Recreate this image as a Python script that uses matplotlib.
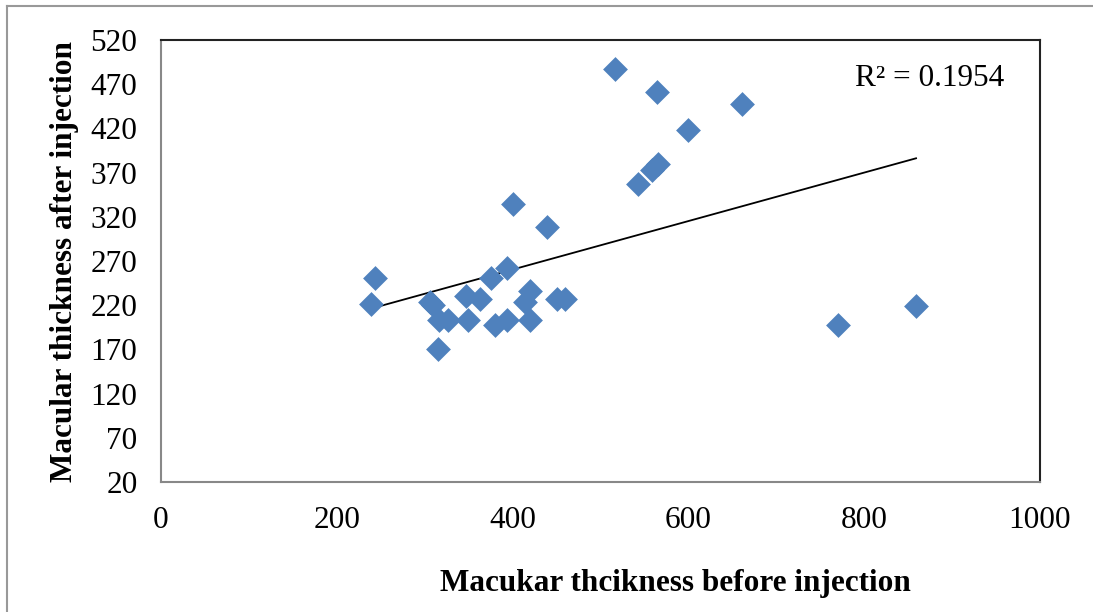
import numpy as np
import matplotlib.pyplot as plt
from matplotlib.lines import Line2D

# macular thickness before / after injection
before = [516, 564, 661, 599, 565, 559, 543, 401, 439, 244,
          375, 394, 239, 306, 310, 347, 363, 420, 414, 450,
          460, 316, 327, 349, 380, 394, 420, 315, 770, 859]
after = [487, 461, 448, 418, 380, 373, 357, 334, 309, 251,
         251, 262, 221, 224, 220, 230, 227, 236, 224, 227,
         227, 203, 203, 203, 198, 203, 203, 170, 198, 219]
x_ticks = [0, 200, 400, 600, 800, 1000]
y_ticks = [20, 70, 120, 170, 220, 270, 320, 370, 420, 470, 520]
r2_text = "R² = 0.1954"

plt.rcParams['font.family'] = ['Liberation Serif', 'DejaVu Serif']

fig = plt.figure(figsize=(10.93, 6.12), dpi=100)
ax = fig.add_axes([0.1473, 0.2124, 0.8042, 0.7222])

# outer chart border (only top and left are visible in the original)
fig.add_artist(Line2D([7 / 1093, 1], [1 - 6 / 612, 1 - 6 / 612], transform=fig.transFigure,
                      color='#999999', linewidth=1.5))
fig.add_artist(Line2D([7 / 1093, 7 / 1093], [0, 1 - 6 / 612], transform=fig.transFigure,
                      color='#999999', linewidth=1.5))

ax.scatter(before, after, marker='D', s=160, color='#4F81BD', linewidths=0, zorder=3)

# linear trend line
slope, intercept = np.polyfit(before, after, 1)
xs = np.array([min(before), max(before)])
ax.plot(xs, slope * xs + intercept, color='black', linewidth=1.3, zorder=2)

ax.set_xlim(0, 1000)
ax.set_ylim(20, 520)
ax.set_xticks(x_ticks)
ax.set_yticks(y_ticks)
ax.tick_params(length=0, labelsize=22.5)
ax.tick_params(axis='x', pad=17)
ax.tick_params(axis='y', pad=17)

for side in ['left', 'bottom']:
    ax.spines[side].set_color('#888888')
for side in ['top', 'right']:
    ax.spines[side].set_color('#222222')
for s in ax.spines.values():
    s.set_linewidth(1.5)

ax.text(0.789, 0.914, r2_text, transform=ax.transAxes, fontsize=22.5, va='center', ha='left')

ax.set_xlabel("Macukar thcikness before injection", fontsize=22.5, fontweight='bold')
ax.xaxis.set_label_coords(0.585, -0.197)
ax.set_ylabel("Macular thickness after injection", fontsize=22.5, fontweight='bold', labelpad=8)

fig.savefig("out.png", dpi=100)
